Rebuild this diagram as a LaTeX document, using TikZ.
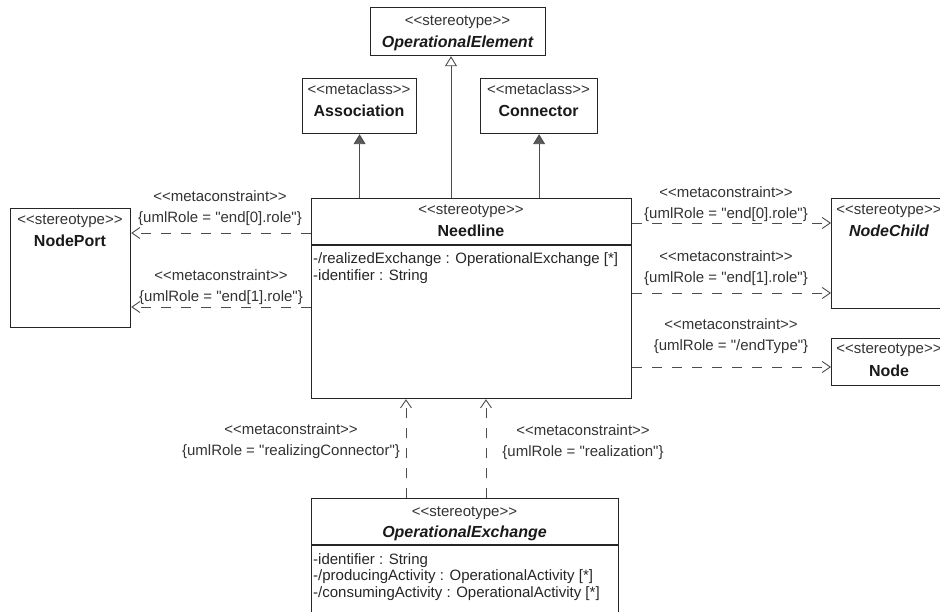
\documentclass[tikz,border=0pt]{standalone}
\usepackage{fontspec}
\newfontfamily\umlfont{Liberation Sans}
\usetikzlibrary{arrows.meta}

\begin{document}
\begin{tikzpicture}[x=1pt,y=-1pt,
  box/.style={draw=black!85,line width=1.2pt,anchor=north west,inner sep=0pt},
  stereo/.style={font=\umlfont\fontsize{15}{18}\selectfont,inner sep=0pt,anchor=base,text=black!80},
  cname/.style={font=\umlfont\fontsize{16}{18}\selectfont\bfseries,inner sep=0pt,anchor=base,text=black!90},
  attr/.style={font=\umlfont\fontsize{15}{16.5}\selectfont,inner sep=0pt,align=left,anchor=base west,text=black!85},
  lbl/.style={font=\umlfont\fontsize{15}{21}\selectfont,inner sep=0pt,align=center,anchor=base,text=black!80},
  dep/.style={draw=black!70,line width=0.9pt,dash pattern=on 10pt off 10pt,-{Straight Barb[length=8pt,width=11pt]}},
  ext/.style={draw=black!70,line width=0.9pt,-{Triangle[length=10pt,width=12pt,fill=black!65]}},
  gen/.style={draw=black!70,line width=0.9pt,-{Triangle[open,length=10pt,width=12pt,fill=white]}}]

\useasboundingbox (0,0) rectangle (940,612);
\clip (0,0) rectangle (940,612);

% class boxes
\node (opel) [box,minimum width=175pt,minimum height=48pt] at (370,7) {};
\node [stereo] at (457.5,26) {<<stereotype>>};
\node [cname] at (457.5,48) {\itshape OperationalElement};

\node (assoc) [box,minimum width=114pt,minimum height=55pt] at (302,78) {};
\node [stereo] at (359,95) {<<metaclass>>};
\node [cname] at (359,117) {Association};

\node (conn) [box,minimum width=117pt,minimum height=55pt] at (480,78) {};
\node [stereo] at (538.5,95) {<<metaclass>>};
\node [cname] at (538.5,117) {Connector};

\node (needline) [box,minimum width=320pt,minimum height=200pt] at (311,198) {};
\node [stereo] at (471,215) {<<stereotype>>};
\node [cname] at (471,237) {Needline};
\draw [black!85,line width=1.2pt] (needline.west |- 0,245) -- (needline.east |- 0,245);
\node [attr] at (313,280.5) {-/realizedExchange : OperationalExchange [*]\\-identifier : String};

\node (nodeport) [box,minimum width=120pt,minimum height=119pt] at (10,208) {};
\node [stereo] at (70,225) {<<stereotype>>};
\node [cname] at (70,247) {NodePort};

\node (nodechild) [box,minimum width=116pt,minimum height=110pt] at (831,198) {};
\node [stereo] at (889,215) {<<stereotype>>};
\node [cname] at (889,237) {\itshape NodeChild};

\node (nodebox) [box,minimum width=116pt,minimum height=47pt] at (831,338) {};
\node [stereo] at (889,354) {<<stereotype>>};
\node [cname] at (889,376) {Node};

\node (opex) [box,minimum width=307pt,minimum height=125pt] at (311,498) {};
\node [stereo] at (464.5,516) {<<stereotype>>};
\node [cname] at (464.5,537) {\itshape OperationalExchange};
\draw [black!85,line width=1.2pt] (opex.west |- 0,545) -- (opex.east |- 0,545);
\node [attr] at (313,597) {-identifier : String\\-/producingActivity : OperationalActivity [*]\\-/consumingActivity : OperationalActivity [*]};

% generalization and extensions
\draw [gen] (needline.north -| 451,0) -- (opel.south -| 451,0);
\draw [ext] (needline.north -| assoc.south) -- (assoc.south);
\draw [ext] (needline.north -| conn.south) -- (conn.south);

% metaconstraints
\draw [dep] (needline.west |- 0,233) -- (nodeport.east |- 0,233);
\draw [dep] (needline.west |- 0,307) -- (nodeport.east |- 0,307);
\draw [dep] (needline.east |- 0,223) -- (nodechild.west |- 0,223);
\draw [dep] (needline.east |- 0,293) -- (nodechild.west |- 0,293);
\draw [dep] (needline.east |- 0,367) -- (nodebox.west |- 0,367);
\draw [dep] (opex.north -| 406,0) -- (needline.south -| 406,0);
\draw [dep] (opex.north -| 486,0) -- (needline.south -| 486,0);

\node (l1) [lbl] at (220,223) {<<metaconstraint>>\\\{umlRole = "end[0].role"\}};
\node (l2) [lbl] at (221,302) {<<metaconstraint>>\\\{umlRole = "end[1].role"\}};
\node (r1) [lbl] at (726,219) {<<metaconstraint>>\\\{umlRole = "end[0].role"\}};
\node (r2) [lbl] at (726,283) {<<metaconstraint>>\\\{umlRole = "end[1].role"\}};
\node (r3) [lbl] at (731,351) {<<metaconstraint>>\\\{umlRole = "/endType"\}};
\node (b1) [lbl] at (291,455) {<<metaconstraint>>\\\{umlRole = "realizingConnector"\}};
\node (b2) [lbl] at (583,456) {<<metaconstraint>>\\\{umlRole = "realization"\}};
\end{tikzpicture}
\end{document}
